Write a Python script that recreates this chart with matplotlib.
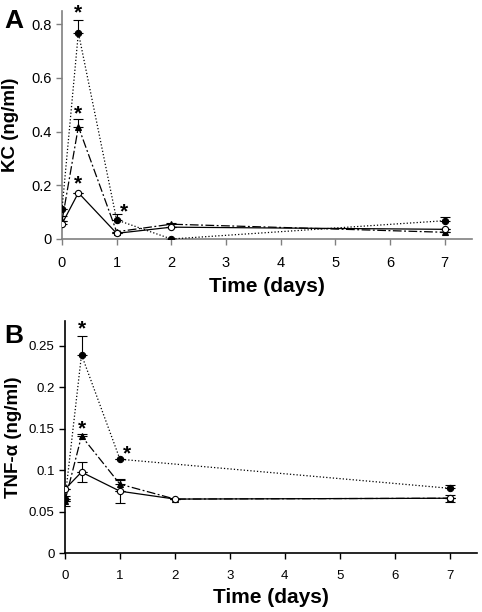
import numpy as np
import matplotlib.pyplot as plt

plt.rcParams['font.family'] = ['Liberation Sans', 'DejaVu Sans']

# ---- Panel A: KC (ng/ml) ----
t_a = [0, 0.3, 1, 2, 7]
kc_filled = [0.11, 0.768, 0.071, 0.0, 0.068]
kc_filled_err = [0.0, 0.048, 0.021, 0.0, 0.012]
kc_tri = [0.067, 0.418, 0.027, 0.055, 0.025]
kc_tri_err = [0.0, 0.027, 0.0, 0.005, 0.0]
kc_open = [0.056, 0.172, 0.021, 0.044, 0.036]
kc_open_err = [0.03, 0.0, 0.0, 0.0, 0.0]
kc_stars = [(0.3, 0.84), (0.3, 0.465), (0.3, 0.205), (1.13, 0.1)]

# ---- Panel B: TNF-alpha (ng/ml) ----
t_b_filled = [0, 0.3, 1, 7]
tnf_filled = [0.065, 0.239, 0.113, 0.078]
tnf_filled_err = [0.0, 0.023, 0.0, 0.004]
t_b = [0, 0.3, 1, 2, 7]
tnf_tri = [0.063, 0.141, 0.083, 0.065, 0.066]
tnf_tri_err = [0.006, 0.003, 0.006, 0.0, 0.004]
tnf_open = [0.077, 0.0975, 0.0745, 0.065, 0.066]
tnf_open_err = [0.0, 0.0125, 0.014, 0.0, 0.0]
tnf_stars = [(0.3, 0.27), (0.3, 0.15), (1.12, 0.12)]

fig = plt.figure(figsize=(4.82, 6.12), dpi=100)
ax_a = fig.add_axes([0.1286, 0.6095, 0.8504, 0.3732])
ax_b = fig.add_axes([0.1349, 0.0964, 0.8547, 0.3796])


def draw_series(ax, t, y, err, marker, ls, mfc, dashes=None):
    line, = ax.plot(t, y, color='black', linestyle=ls, linewidth=0.9,
                    marker=marker, markersize=4.5, markerfacecolor=mfc,
                    markeredgecolor='black', markeredgewidth=0.8, zorder=3)
    if dashes is not None:
        line.set_dashes(dashes)
    ax.errorbar(t, y, yerr=[np.zeros(len(err)), err], fmt='none',
                ecolor='black', elinewidth=0.8, capsize=3.5, capthick=0.8,
                zorder=2)


def style_axes(ax, ymax, yticks, ylabels, ylabel, spine_color, xpad, ylab_x, tsize):
    ax.set_xlim(0, 7.5)
    ax.set_ylim(0, ymax)
    ax.set_xticks(range(0, 8))
    ax.set_yticks(yticks)
    ax.set_yticklabels(ylabels)
    for s in ['top', 'right']:
        ax.spines[s].set_visible(False)
    for s in ['left', 'bottom']:
        ax.spines[s].set_color(spine_color)
        ax.spines[s].set_linewidth(1.2)
    ax.tick_params(direction='out', length=4, width=1, color=spine_color,
                   labelsize=tsize, labelcolor='black')
    ax.tick_params(axis='x', pad=8)
    ax.set_xlabel('Time (days)', fontsize=15, fontweight='bold', labelpad=xpad)
    ax.set_ylabel(ylabel, fontsize=13.5, fontweight='bold')
    ax.yaxis.set_label_coords(ylab_x, 0.5)


# Panel A
draw_series(ax_a, t_a, kc_filled, kc_filled_err, 'o', ':', 'black')
draw_series(ax_a, t_a, kc_tri, kc_tri_err, '^', '-', 'black', dashes=(7, 2, 1.5, 2))
draw_series(ax_a, t_a, kc_open, kc_open_err, 'o', '-', 'white')
for x, y in kc_stars:
    ax_a.text(x, y, '*', ha='center', va='center', fontsize=15, fontweight='bold')
style_axes(ax_a, 0.85, [0, 0.2, 0.4, 0.6, 0.8], ['0', '0.2', '0.4', '0.6', '0.8'],
           'KC (ng/ml)', '#808080', 5, -0.105, 10.5)

# Panel B
draw_series(ax_b, t_b_filled, tnf_filled, tnf_filled_err, 'o', ':', 'black')
draw_series(ax_b, t_b, tnf_tri, tnf_tri_err, '^', '-', 'black', dashes=(7, 2, 1.5, 2))
draw_series(ax_b, t_b, tnf_open, tnf_open_err, 'o', '-', 'white')
# downward error bars
ax_b.errorbar([0.3, 1], [0.0975, 0.0745], yerr=[[0.0125, 0.014], [0, 0]], fmt='none',
              ecolor='black', elinewidth=0.8, capsize=3.5, capthick=0.8)
ax_b.errorbar([0, 7], [0.063, 0.066], yerr=[[0.006, 0.004], [0, 0]], fmt='none',
              ecolor='black', elinewidth=0.8, capsize=3.5, capthick=0.8)
for x, y in tnf_stars:
    ax_b.text(x, y, '*', ha='center', va='center', fontsize=15, fontweight='bold')
style_axes(ax_b, 0.28, [0, 0.05, 0.1, 0.15, 0.2, 0.25],
           ['0', '0.05', '0.1', '0.15', '0.2', '0.25'], 'TNF-α (ng/ml)', 'black', 4.5,
           -0.104, 9.5)

fig.text(0.008, 0.985, 'A', fontsize=19, fontweight='bold', va='top', ha='left')
fig.text(0.008, 0.47, 'B', fontsize=19, fontweight='bold', va='top', ha='left')

fig.savefig('out.png', dpi=100)
